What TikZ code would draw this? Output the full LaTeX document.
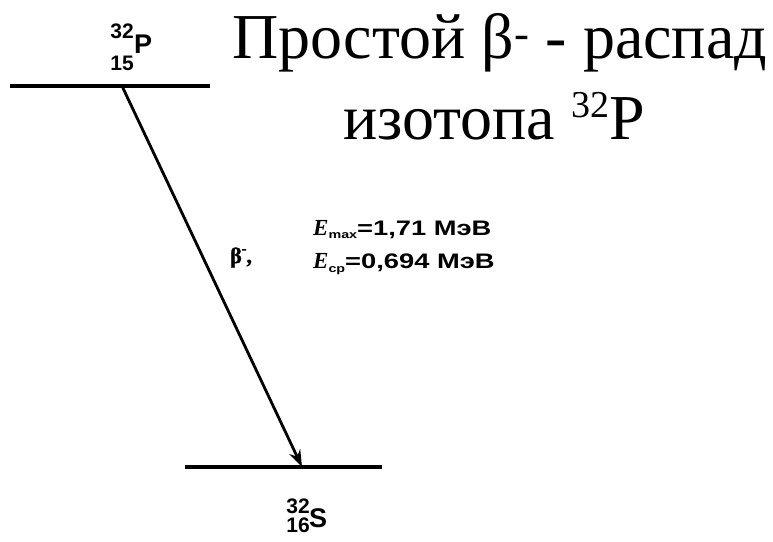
\documentclass[tikz,border=0pt]{standalone}
\usepackage{fontspec}
\setmainfont{Liberation Serif}
\newfontfamily\lsans{Liberation Sans}
\newfontfamily\wsans[FakeStretch=1.3]{Liberation Sans}
\usetikzlibrary{arrows.meta}
\begin{document}
\begin{tikzpicture}[x=1pt,y=-1pt,
  level/.style={line width=3.4pt},
  trans/.style={line width=2.8pt,-{Stealth[length=17pt,width=12pt]}},
  num/.style={font=\lsans\bfseries\fontsize{21}{21}\selectfont,inner sep=0pt},
  sym/.style={font=\lsans\bfseries\fontsize{27}{27}\selectfont,inner sep=0pt},
  title/.style={font=\fontsize{64}{64}\selectfont,inner sep=0pt},
  elab/.style={font=\wsans\bfseries\fontsize{21}{21}\selectfont,inner sep=0pt,anchor=base west}]
\useasboundingbox (0,0) rectangle (773,541);
\fill[white] (0,0) rectangle (773,541);
\coordinate (t1) at (10,86);
\coordinate (t2) at (210,86);
\coordinate (b1) at (185,467);
\coordinate (b2) at (382,467);
\coordinate (ts) at (122,86);
\coordinate (be) at (302,467);
\draw[level] (t1) -- (t2);
\draw[level] (b1) -- (b2);
\draw[trans] (ts) -- (be);
\node[title,anchor=base west] (tl1) at (232,58) {Простой β\textsuperscript{-} - распад};
\node[title,anchor=base] (tl2) at (494,139) {изотопа \raisebox{0.33em}{\fontsize{38}{38}\selectfont 32}P};
\node[num,anchor=base east] (p32) at (134,38) {32};
\node[num,anchor=base east] (p15) at (134,70) {15};
\node[sym,anchor=base west] (p) at (134,53) {P};
\node[num,anchor=base east] (s32) at (310,513) {32};
\node[num,anchor=base east] (s16) at (310,532) {16};
\node[sym,anchor=base west] (s) at (309,527) {S};
\node[elab] (beta) at (230,263) {\fontspec{Liberation Serif}[FakeBold=1.5]\fontsize{22}{22}\selectfont β\raisebox{0.45em}{\fontsize{14}{14}\selectfont -},};
\node[elab] (e1) at (313,235) {\fontspec{Liberation Serif}\bfseries\itshape\fontsize{23}{23}\selectfont E\wsans\bfseries\upshape\raisebox{-0.15em}{\fontsize{11}{11}\selectfont max}\fontsize{21}{21}\selectfont=1,71 МэВ};
\node[elab] (e2) at (313,268) {\fontspec{Liberation Serif}\bfseries\itshape\fontsize{23}{23}\selectfont E\wsans\bfseries\upshape\raisebox{-0.2em}{\fontsize{11}{11}\selectfont ср}\fontsize{21}{21}\selectfont=0,694 МэВ};
\end{tikzpicture}
\end{document}
